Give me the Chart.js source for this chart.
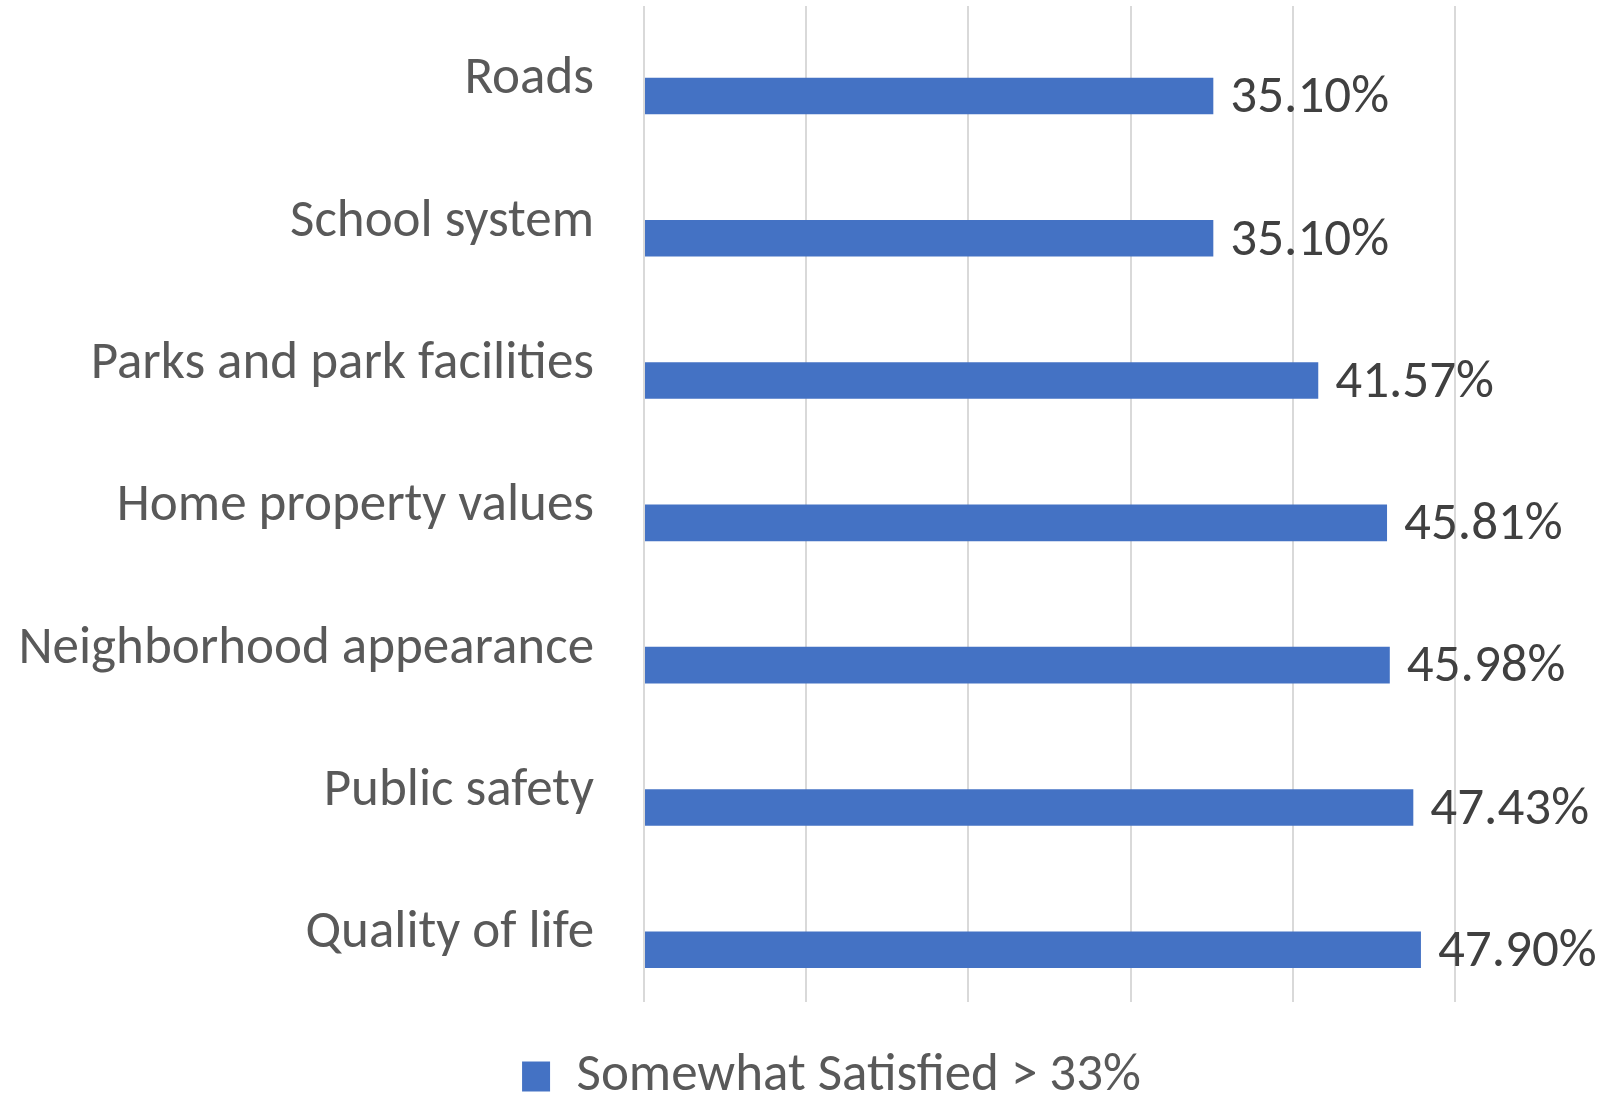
<!DOCTYPE html>
<html>
<head>
<meta charset="utf-8">
<title>Somewhat Satisfied</title>
<script src="https://cdn.jsdelivr.net/npm/chart.js@4"></script>
<style>
  html, body { margin: 0; padding: 0; background: #fff; }
  #wrap { width: 1609px; height: 1093px; }
</style>
</head>
<body>
<div id="wrap"><canvas id="myChart" width="1609" height="1093"></canvas></div>
<script>
const categories = ['Roads', 'School system', 'Parks and park facilities', 'Home property values',
  'Neighborhood appearance', 'Public safety', 'Quality of life'];
const satisfied = [35.10, 35.10, 41.57, 45.81, 45.98, 47.43, 47.90];
const seriesName = 'Somewhat Satisfied > 33%';
const xTicks = [0, 10, 20, 30, 40, 50];

const FONT = 'Carlito, Lato, "Open Sans", sans-serif';
const SIZE = 53;

// value labels at the end of each bar
const barLabels = {
  id: 'barLabels',
  afterDatasetsDraw(chart) {
    const ctx = chart.ctx;
    const meta = chart.getDatasetMeta(1);
    ctx.save();
    ctx.font = SIZE + 'px ' + FONT;
    ctx.fillStyle = '#404040';
    ctx.textAlign = 'left';
    ctx.textBaseline = 'middle';
    meta.data.forEach((bar, i) => {
      ctx.fillText(satisfied[i].toFixed(2) + '%', bar.x + 17, bar.y + 3);
    });
    ctx.restore();
  }
};

// legend sits a bit right of the page centre and lower in the original
const legendShift = {
  id: 'legendShift',
  afterLayout(chart) {
    const lg = chart.legend;
    lg.left += 104;
    lg.right += 104;
    lg.top += 20;
    lg.bottom += 20;
  }
};

new Chart(document.getElementById('myChart'), {
  type: 'bar',
  data: {
    labels: categories,
    datasets: [
      { label: '', data: categories.map(() => null), backgroundColor: 'rgba(0,0,0,0)' },
      { label: seriesName, data: satisfied, backgroundColor: '#4472C4', borderWidth: 0 }
    ]
  },
  plugins: [barLabels, legendShift],
  options: {
    indexAxis: 'y',
    responsive: false,
    animation: false,
    categoryPercentage: 0.53,
    barPercentage: 0.97,
    layout: { padding: { top: 6, right: 154, bottom: 0, left: 0 } },
    scales: {
      x: {
        min: 0, max: 50,
        afterBuildTicks: s => { s.ticks = xTicks.map(v => ({ value: v })); },
        afterFit: s => { s.height = 28; s.paddingLeft = 0; s.paddingRight = 0; },
        ticks: { display: false },
        border: { display: false },
        grid: { color: '#D9D9D9', lineWidth: 2, drawTicks: false }
      },
      y: {
        afterFit: s => { s.width = 644; s.paddingTop = 0; s.paddingBottom = 0; },
        ticks: { color: '#595959', font: { family: FONT, size: SIZE }, padding: 50, labelOffset: 3 },
        border: { display: false },
        grid: { display: false, drawTicks: false }
      }
    },
    plugins: {
      tooltip: { enabled: false },
      legend: {
        position: 'bottom',
        labels: {
          filter: item => item.text !== '',
          color: '#595959',
          font: { family: FONT, size: SIZE },
          boxWidth: 28,
          boxHeight: 30,
          padding: 0
        }
      }
    }
  }
});
</script>
</body>
</html>
